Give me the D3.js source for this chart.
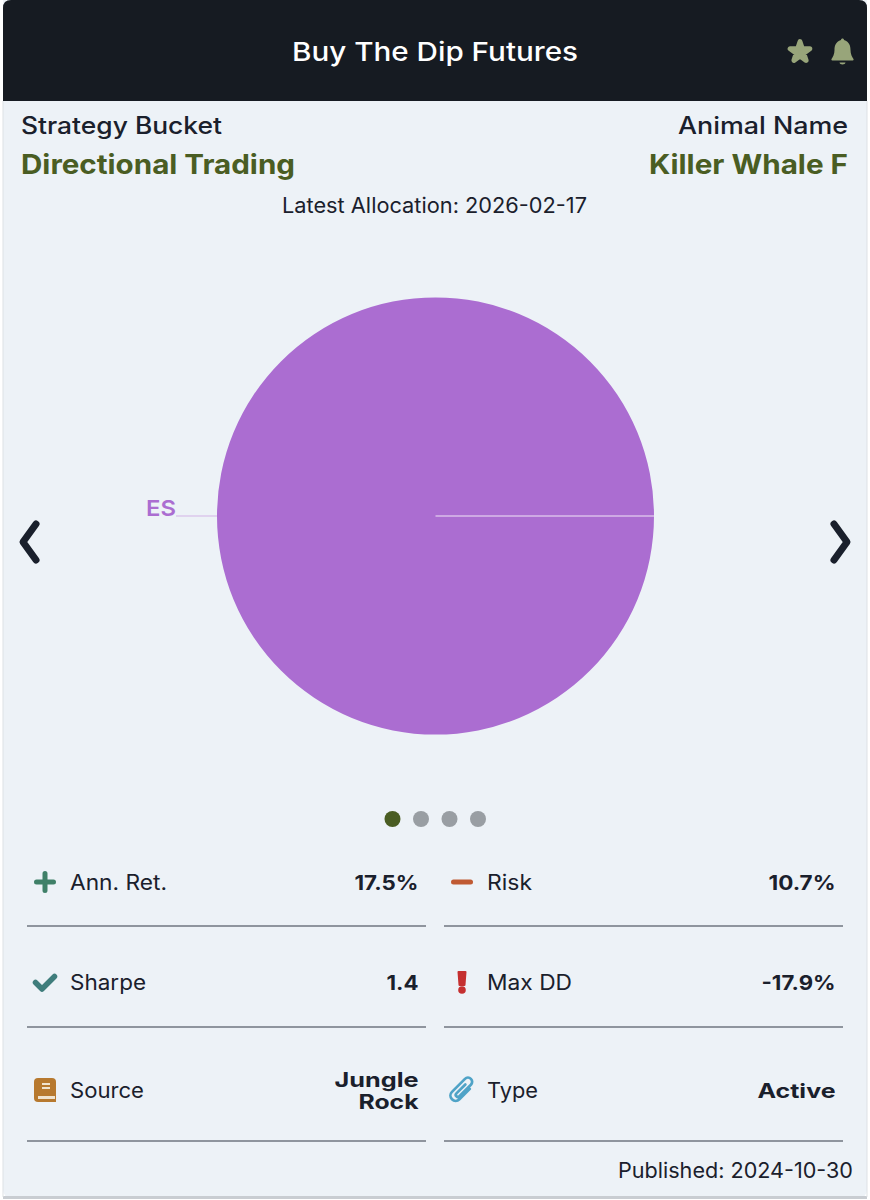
<!DOCTYPE html>
<html>
<head>
<meta charset="utf-8">
<script src="https://cdn.jsdelivr.net/npm/d3@7"></script>
<style>
  html, body { margin: 0; padding: 0; background: #fff; }
  svg { display: block; }
  text { font-family: Inter, "Open Sans", sans-serif; }
</style>
</head>
<body>
<div id="chart"></div>
<script>
// chart data
const categories = ["ES"];
const allocations = [100];
const metricLabels = ["Ann. Ret.", "Risk", "Sharpe", "Max DD", "Source", "Type"];
const metricValues = [["17.5%"], ["10.7%"], ["1.4"], ["-17.9%"], ["Jungle", "Rock"], ["Active"]];
const pages = [0, 1, 2, 3];
const activePage = 0;

const svgWidth = 870;
const svgHeight = 1200;
const dark = "#1a202c";
const green = "#4a5d23";
const purple = "#ab6dd1";

const svg = d3.select("#chart").append("svg")
  .attr("width", svgWidth)
  .attr("height", svgHeight);

// text helper, width is what the line measures in the picture
function label(str, x, y, size, weight, fill, anchor, width) {
  const t = svg.append("text")
    .attr("x", x)
    .attr("y", y)
    .attr("font-size", size)
    .attr("font-weight", weight)
    .attr("fill", fill)
    .attr("text-anchor", anchor)
    .text(str);
  if (width) t.attr("textLength", width).attr("lengthAdjust", "spacingAndGlyphs");
  return t;
}

// card
svg.append("rect").attr("x", 3).attr("y", -10).attr("width", 864).attr("height", 1208)
  .attr("rx", 8).attr("fill", "#edf2f7");
svg.append("line").attr("x1", 3).attr("x2", 867).attr("y1", 1197.5).attr("y2", 1197.5)
  .attr("stroke", "#c9cdd2").attr("stroke-width", 3);
svg.append("line").attr("x1", 3).attr("x2", 3).attr("y1", 101).attr("y2", 1197)
  .attr("stroke", "#dde1e5").attr("stroke-width", 1);
svg.append("line").attr("x1", 867).attr("x2", 867).attr("y1", 101).attr("y2", 1197)
  .attr("stroke", "#dde1e5").attr("stroke-width", 1);
svg.append("path")
  .attr("d", "M3,101V8Q3,0 11,0H859Q867,0 867,8V101Z")
  .attr("fill", "#161b22");

label("Buy The Dip Futures", 435, 61, 26, 500, "#fff", "middle", 286);

// header icons
svg.append("path")
  .attr("d", d3.symbol(d3.symbolStar, 120))
  .attr("transform", "translate(800,52)")
  .attr("fill", "#98a57a").attr("stroke", "#98a57a").attr("stroke-width", 5).attr("stroke-linejoin", "round");
svg.append("path")
  .attr("transform", "translate(842.5,51)")
  .attr("d", "M-1.5,-11C-1.5,-13 1.5,-13 1.5,-11C7,-9 8,-5 8,-1C8,3 9.5,6 11,8C11.5,9 10.5,9.5 9.5,9.5H-9.5C-10.5,9.5 -11.5,9 -11,8C-9.5,6 -8,3 -8,-1C-8,-5 -7,-9 -1.5,-11ZM-3,11.5H3C3,14 -3,14 -3,11.5Z")
  .attr("fill", "#98a57a");

label("Strategy Bucket", 21, 134, 24, 500, dark, "start", 201);
label("Animal Name", 848, 134, 24, 500, dark, "end", 170);
label("Directional Trading", 21, 174, 27, 700, green, "start", 274);
label("Killer Whale F", 848, 174, 27, 700, green, "end", 199);
label("Latest Allocation: 2026-02-17", 434.5, 213, 21, 400, dark, "middle", 305);

// pie
const radius = 218.5;
const pieGroup = svg.append("g").attr("transform", "translate(435.5,516)");
const pie = d3.pie().sort(null).startAngle(Math.PI / 2).endAngle(Math.PI / 2 + 2 * Math.PI);
const arc = d3.arc().innerRadius(0).outerRadius(radius);
const slices = pie(allocations);

pieGroup.selectAll("path.slice")
  .data(slices)
  .join("path")
  .attr("class", "slice")
  .attr("d", arc)
  .attr("fill", purple);

// slice edge, d3.arc leaves it out on a full circle
slices.forEach(d => {
  const [ex, ey] = d3.pointRadial(d.startAngle, radius);
  pieGroup.append("line")
    .attr("x1", 0).attr("y1", 0).attr("x2", ex).attr("y2", ey)
    .attr("stroke", "#f1e6f7").attr("stroke-width", 1);

  const mid = (d.startAngle + d.endAngle) / 2;
  const [ax, ay] = d3.pointRadial(mid, radius);
  const [bx, by] = d3.pointRadial(mid, radius + 41);
  pieGroup.append("line")
    .attr("x1", ax).attr("y1", ay).attr("x2", bx).attr("y2", by)
    .attr("stroke", "#d3b3e6").attr("stroke-width", 1);
  label(categories[d.index], 435.5 + bx, 516 + by, 22, 600, purple, "end", 30);
});

// arrows
const chevron = d3.line();
svg.append("path").attr("d", chevron([[36, 524], [23, 542], [36, 560]]))
  .attr("fill", "none").attr("stroke", dark).attr("stroke-width", 7)
  .attr("stroke-linecap", "round").attr("stroke-linejoin", "round");
svg.append("path").attr("d", chevron([[834, 524], [847, 542], [834, 560]]))
  .attr("fill", "none").attr("stroke", dark).attr("stroke-width", 7)
  .attr("stroke-linecap", "round").attr("stroke-linejoin", "round");

// page dots
const dotX = d3.scalePoint().domain(pages).range([392.5, 478]);
svg.selectAll("circle.dot")
  .data(pages)
  .join("circle")
  .attr("class", "dot")
  .attr("cx", d => dotX(d))
  .attr("cy", 819)
  .attr("r", 8)
  .attr("fill", d => d === activePage ? green : "#999ea3");

// metric grid
const columnX = [27, 444];
const rowBaseline = [890, 990, 1098];
const rowRule = [926, 1027, 1141];
const rowIcon = [882, 982, 1090];
const labelWidths = [97, 45, 76, 85, 74, 51];
const valueWidths = [[64], [67], [32], [74], [84, 60], [78]];

// one drawing per metric, around the middle of the icon
const icons = [
  g => g.append("path").attr("d", "M-8.5,0H8.5M0,-8.5V8.5").attr("stroke", "#3f8068").attr("stroke-width", 5).attr("stroke-linecap", "round"),
  g => g.append("path").attr("d", "M-8.5,0H8.5").attr("stroke", "#c05a33").attr("stroke-width", 5).attr("stroke-linecap", "round"),
  g => g.append("path").attr("d", "M-9.5,0.5L-3,7L9.5,-5.5").attr("fill", "none").attr("stroke", "#3f7d7c").attr("stroke-width", 5.5).attr("stroke-linecap", "round").attr("stroke-linejoin", "round"),
  g => {
    g.append("path").attr("d", "M-3.5,-10H3.5L2.5,3H-2.5Z").attr("fill", "#c53030").attr("stroke", "#c53030").attr("stroke-width", 2).attr("stroke-linejoin", "round");
    g.append("circle").attr("cy", 8).attr("r", 3.8).attr("fill", "#c53030");
  },
  g => {
    g.append("path").attr("d", "M-7,-12H7Q11,-12 11,-8V12H-7Q-11,12 -11,8V-8Q-11,-12 -7,-12Z").attr("fill", "#b7792f");
    g.append("path").attr("d", "M-3,-6H5M-3,-2H5").attr("stroke", "#f0e3cf").attr("stroke-width", 2);
    g.append("path").attr("d", "M-7,7.5H10").attr("stroke", "#f0e3cf").attr("stroke-width", 3);
  },
  g => g.append("path")
    .attr("transform", "rotate(45) scale(1.05)")
    .attr("d", "M4.5,-6V8A5,5 0 0 1 -5.5,8V-9.5A4,4 0 0 1 2.5,-9.5V6A1.2,1.2 0 0 1 -1.5,6V-6")
    .attr("fill", "none").attr("stroke", "#4fa3c7").attr("stroke-width", 2.6).attr("stroke-linecap", "round")
];

metricLabels.forEach((name, i) => {
  const col = i % 2;
  const row = Math.floor(i / 2);
  const x0 = columnX[col];

  icons[i](svg.append("g").attr("transform", `translate(${x0 + 18},${rowIcon[row]})`));
  label(name, x0 + 43, rowBaseline[row], 21, 400, dark, "start", labelWidths[i]);

  // wrapped values stay one text with a line per tspan
  const lines = metricValues[i];
  const valueText = svg.append("text")
    .attr("font-size", 20)
    .attr("font-weight", 700)
    .attr("fill", dark)
    .attr("text-anchor", "end");
  valueText.selectAll("tspan")
    .data(lines)
    .join("tspan")
    .attr("x", x0 + 391.5)
    .attr("y", (d, j) => lines.length > 1 ? rowBaseline[row] - 11 + j * 22 : rowBaseline[row])
    .attr("textLength", (d, j) => valueWidths[i][j])
    .attr("lengthAdjust", "spacingAndGlyphs")
    .text(d => d);

  svg.append("line")
    .attr("x1", x0).attr("x2", x0 + 399)
    .attr("y1", rowRule[row]).attr("y2", rowRule[row])
    .attr("stroke", "#8f959e").attr("stroke-width", 2);
});

label("Published: 2024-10-30", 853, 1178, 21, 400, dark, "end", 235);
</script>
</body>
</html>
